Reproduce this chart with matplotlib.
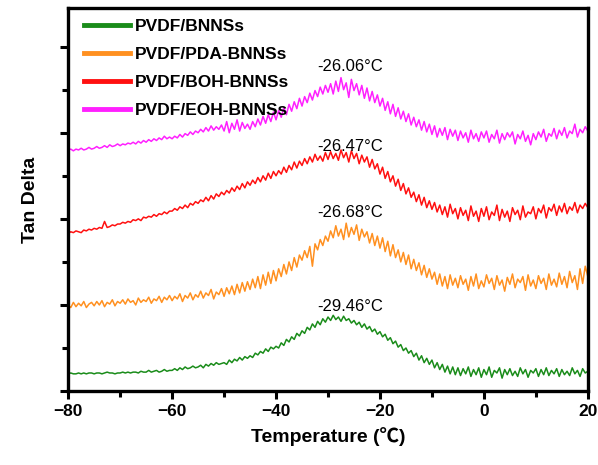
import numpy as np
import matplotlib
matplotlib.use("Agg")
import matplotlib.pyplot as plt
from matplotlib.ticker import MultipleLocator

plt.rcParams['font.family'] = ['Liberation Sans', 'Noto Sans CJK SC', 'DejaVu Sans']

temperature = np.arange(-80, 20.01, 0.5)

bnns = [
    0.20,0.21,0.20,0.20,0.21,0.20,0.21,0.20,0.21,0.21,
    0.20,0.21,0.21,0.20,0.21,0.22,0.21,0.21,0.20,0.21,
    0.21,0.22,0.21,0.22,0.21,0.22,0.22,0.21,0.23,0.22,
    0.22,0.24,0.22,0.23,0.24,0.22,0.23,0.25,0.23,0.24,
    0.24,0.26,0.24,0.27,0.25,0.28,0.26,0.27,0.29,0.27,
    0.28,0.30,0.27,0.31,0.29,0.32,0.30,0.33,0.31,0.32,
    0.33,0.31,0.36,0.33,0.37,0.35,0.39,0.36,0.40,0.38,
    0.41,0.39,0.44,0.42,0.46,0.44,0.49,0.46,0.51,0.49,
    0.52,0.50,0.56,0.53,0.60,0.57,0.63,0.60,0.67,0.64,
    0.70,0.67,0.74,0.71,0.78,0.74,0.81,0.77,0.84,0.80,
    0.86,0.82,0.88,0.83,0.86,0.81,0.87,0.82,0.84,0.79,
    0.82,0.77,0.80,0.74,0.78,0.72,0.75,0.69,0.72,0.66,
    0.69,0.63,0.66,0.59,0.62,0.55,0.58,0.51,0.54,0.47,
    0.50,0.44,0.47,0.40,0.44,0.36,0.41,0.33,0.38,0.31,
    0.36,0.27,0.33,0.25,0.31,0.22,0.29,0.20,0.28,0.19,
    0.27,0.18,0.26,0.20,0.28,0.17,0.25,0.19,0.27,0.16,
    0.25,0.19,0.28,0.16,0.24,0.21,0.27,0.15,0.25,0.19,
    0.26,0.18,0.23,0.17,0.27,0.20,0.25,0.16,0.24,0.21,
    0.26,0.17,0.25,0.19,0.27,0.18,0.24,0.20,0.26,0.17,
    0.25,0.19,0.23,0.18,0.27,0.20,0.24,0.17,0.26,0.21,
    0.23,
]

pda = [
    1.00,0.97,1.03,0.98,1.02,0.99,1.04,0.97,1.01,1.03,
    0.99,1.04,1.00,1.05,0.98,1.03,1.01,1.06,0.99,1.04,
    1.02,1.06,1.01,1.07,1.03,1.05,1.00,1.08,1.03,1.06,
    1.04,1.09,1.02,1.07,1.05,1.10,1.03,1.09,1.06,1.11,
    1.05,1.10,1.07,1.13,1.04,1.11,1.08,1.14,1.06,1.12,
    1.09,1.16,1.08,1.14,1.11,1.18,1.07,1.15,1.12,1.19,
    1.10,1.20,1.13,1.22,1.12,1.24,1.14,1.26,1.16,1.27,
    1.18,1.30,1.20,1.33,1.19,1.35,1.23,1.38,1.25,1.40,
    1.28,1.42,1.33,1.47,1.36,1.50,1.40,1.55,1.44,1.58,
    1.52,1.63,1.55,1.68,1.45,1.71,1.64,1.76,1.69,1.80,
    1.74,1.86,1.78,1.92,1.80,1.88,1.76,1.95,1.79,1.90,
    1.82,1.93,1.75,1.88,1.79,1.85,1.72,1.83,1.69,1.80,
    1.66,1.78,1.62,1.74,1.57,1.70,1.55,1.64,1.50,1.61,
    1.47,1.58,1.42,1.53,1.40,1.49,1.35,1.46,1.32,1.42,
    1.30,1.38,1.24,1.36,1.22,1.33,1.19,1.35,1.23,1.31,
    1.20,1.34,1.24,1.30,1.17,1.33,1.22,1.36,1.19,1.28,
    1.21,1.35,1.25,1.31,1.18,1.34,1.23,1.29,1.16,1.32,
    1.24,1.36,1.20,1.30,1.26,1.33,1.17,1.35,1.22,1.29,
    1.19,1.34,1.25,1.31,1.18,1.36,1.23,1.30,1.21,1.37,
    1.24,1.33,1.20,1.39,1.26,1.34,1.18,1.42,1.25,1.45,
    1.33,
]

boh = [
    1.83,1.85,1.84,1.86,1.85,1.84,1.87,1.86,1.88,1.87,
    1.89,1.88,1.90,1.89,1.97,1.90,1.91,1.93,1.92,1.94,
    1.94,1.96,1.95,1.97,1.96,1.99,1.98,2.00,1.98,2.02,
    2.01,2.03,2.02,2.05,2.03,2.06,2.05,2.08,2.06,2.09,
    2.09,2.12,2.10,2.14,2.12,2.16,2.13,2.18,2.16,2.20,
    2.18,2.22,2.20,2.25,2.21,2.27,2.23,2.29,2.26,2.31,
    2.28,2.33,2.30,2.36,2.32,2.38,2.34,2.41,2.36,2.43,
    2.39,2.45,2.41,2.48,2.43,2.50,2.45,2.53,2.47,2.55,
    2.50,2.56,2.52,2.60,2.54,2.62,2.57,2.66,2.59,2.67,
    2.62,2.70,2.64,2.72,2.66,2.75,2.68,2.73,2.67,2.77,
    2.69,2.78,2.70,2.76,2.68,2.80,2.71,2.77,2.66,2.79,
    2.70,2.76,2.64,2.74,2.66,2.72,2.60,2.69,2.58,2.64,
    2.52,2.60,2.47,2.55,2.43,2.50,2.38,2.46,2.33,2.41,
    2.29,2.36,2.25,2.31,2.20,2.28,2.16,2.25,2.13,2.21,
    2.11,2.19,2.08,2.16,2.05,2.14,2.02,2.17,2.06,2.12,
    2.00,2.13,2.04,2.10,1.98,2.15,2.03,2.09,1.97,2.12,
    2.03,2.14,1.99,2.08,2.04,2.16,1.98,2.11,2.02,2.09,
    1.97,2.13,2.05,2.10,1.99,2.15,2.02,2.08,2.06,2.14,
    2.00,2.12,2.07,2.16,2.01,2.13,2.09,2.17,2.04,2.15,
    2.08,2.18,2.06,2.14,2.10,2.19,2.07,2.16,2.12,2.18,
    2.13,
]

eoh = [
    2.80,2.81,2.79,2.81,2.80,2.82,2.80,2.81,2.83,2.81,
    2.82,2.84,2.82,2.83,2.85,2.83,2.86,2.84,2.85,2.87,
    2.85,2.87,2.86,2.88,2.87,2.89,2.87,2.90,2.88,2.91,
    2.89,2.92,2.90,2.93,2.91,2.94,2.92,2.96,2.93,2.95,
    2.93,2.96,2.94,2.98,2.95,2.99,2.97,3.01,2.98,3.02,
    3.00,3.04,3.01,3.06,3.02,3.08,3.03,3.07,3.04,3.09,
    3.02,3.13,3.00,3.11,3.04,3.15,3.02,3.12,3.05,3.10,
    3.04,3.13,3.07,3.16,3.09,3.19,3.11,3.21,3.13,3.24,
    3.15,3.26,3.18,3.29,3.21,3.33,3.25,3.36,3.28,3.40,
    3.31,3.42,3.35,3.46,3.38,3.49,3.42,3.53,3.45,3.55,
    3.47,3.57,3.45,3.60,3.48,3.64,3.50,3.58,3.41,3.62,
    3.49,3.57,3.44,3.55,3.40,3.52,3.37,3.48,3.35,3.44,
    3.31,3.40,3.26,3.36,3.22,3.33,3.19,3.29,3.16,3.25,
    3.13,3.22,3.09,3.18,3.07,3.15,3.03,3.13,3.01,3.10,
    2.98,3.08,2.95,3.05,2.97,3.06,2.92,3.04,2.96,3.03,
    2.91,3.02,2.94,3.00,2.89,3.03,2.93,2.99,2.90,3.01,
    2.94,3.02,2.89,2.98,2.93,3.03,2.88,2.99,2.92,3.00,
    2.95,3.01,2.87,2.98,2.93,3.02,2.90,2.97,2.86,2.99,
    2.92,3.01,2.95,3.04,2.90,2.99,2.96,3.05,2.93,3.03,
    2.97,3.06,2.94,3.02,2.99,3.10,2.95,3.04,3.00,3.07,
    3.02,
]

series_labels = ["PVDF/BNNSs", "PVDF/PDA-BNNSs", "PVDF/BOH-BNNSs", "PVDF/EOH-BNNSs"]
series_colors = ["#1a8c1a", "#ff9020", "#ff1010", "#ff20ff"]
peak_labels = ["-29.46°C", "-26.68°C", "-26.47°C", "-26.06°C"]
peak_label_pos = [(-25.8, 0.98), (-25.8, 2.07), (-25.8, 2.84), (-25.8, 3.77)]

fig = plt.figure(figsize=(5.98, 4.65), dpi=100)
ax = fig.add_axes([0.114, 0.159, 0.869, 0.824])

for vals, lab, col in zip([bnns, pda, boh, eoh], series_labels, series_colors):
    ax.plot(temperature, vals, color=col, lw=1.1, label=lab)

for txt, (px, py) in zip(peak_labels, peak_label_pos):
    ax.text(px, py, txt, ha='center', va='center', fontsize=12, color='black')

ax.set_xlim(-80, 20)
ax.set_ylim(0, 4.45)
ax.xaxis.set_major_locator(MultipleLocator(20))
ax.xaxis.set_minor_locator(MultipleLocator(10))
ax.yaxis.set_major_locator(MultipleLocator(1))
ax.yaxis.set_minor_locator(MultipleLocator(0.5))
ax.set_yticklabels([])
ax.tick_params(which='both', direction='out', width=2.2, top=False, right=False)
ax.tick_params(which='major', length=6, labelsize=12.5, pad=3)
ax.tick_params(which='minor', length=4)
for lbl in ax.get_xticklabels():
    lbl.set_fontweight('bold')
for sp in ax.spines.values():
    sp.set_linewidth(2.4)

ax.set_xlabel("Temperature (℃)", fontsize=14, fontweight='bold', labelpad=6)
ax.set_ylabel("Tan Delta", fontsize=14, fontweight='bold', labelpad=12)

leg = ax.legend(loc='upper left', frameon=False, prop={'weight': 'bold', 'size': 12.5},
                handlelength=2.65, handletextpad=0.3, labelspacing=0.75,
                borderaxespad=0.5, bbox_to_anchor=(0.0, 1.013))
for h in leg.get_lines():
    h.set_linewidth(3.5)

fig.savefig("out.png", dpi=100)
